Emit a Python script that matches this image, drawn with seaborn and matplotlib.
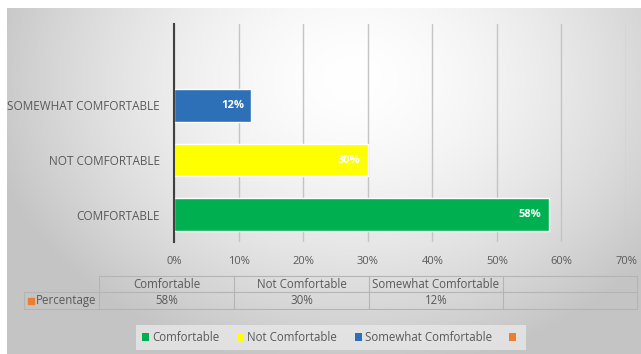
import numpy as np
import pandas as pd
import matplotlib
matplotlib.use("Agg")
import matplotlib.pyplot as plt
from matplotlib.patches import Patch, Rectangle
import seaborn as sns

# ---- data ----
categories = ["SOMEWHAT COMFORTABLE", "NOT COMFORTABLE", "COMFORTABLE"]
values = [12, 30, 58]
table_headers = ["Comfortable", "Not Comfortable", "Somewhat Comfortable"]
table_values = [58, 30, 12]
series_name = "Percentage"
legend_labels = ["Comfortable", "Not Comfortable", "Somewhat Comfortable", ""]
x_ticks = [0, 10, 20, 30, 40, 50, 60, 70]

colors = {"SOMEWHAT COMFORTABLE": "#2e70b8", "NOT COMFORTABLE": "#ffff00",
          "COMFORTABLE": "#00b050"}
legend_colors = ["#00b050", "#ffff00", "#2e70b8", "#ed7d31"]

sns.set_theme(style="white")
plt.rcParams['font.family'] = ['Open Sans', 'DejaVu Sans']

W, H = 641, 354
fig = plt.figure(figsize=(W / 100, H / 100), dpi=100)
fig.patch.set_facecolor("white")

# background gradient (chart area)
bg = fig.add_axes([0, 0, 1, 1], zorder=-10)
yy, xx = np.mgrid[0:H, 0:W]
cx, cy = 0.55 * W, 0.22 * H
r2 = ((xx - cx) / (0.60 * W)) ** 2 + ((yy - cy) / (0.85 * H)) ** 2
val = np.clip(1.0 - 0.24 * r2 ** 0.8, 0.77, 1.0)
img = np.dstack([val, val, val])
img[:8, :, :] = 1.0
img[:, :7, :] = 1.0
bg.imshow(img, extent=(0, W, H, 0), aspect="auto", interpolation="bilinear")
bg.set_xlim(0, W)
bg.set_ylim(H, 0)
bg.axis("off")

# main bar axes
ax = fig.add_axes([174 / W, 1 - 242 / H, (626 - 174) / W, (242 - 23.5) / H])
ax.patch.set_alpha(0)
df = pd.DataFrame({"cat": categories, "val": values})
sns.barplot(data=df, x="val", y="cat", hue="cat", order=categories,
            palette=colors, orient="h", width=0.6, legend=False, ax=ax,
            saturation=1)
ax.set_xlim(0, 70)
ax.set_ylim(2.5, -1.5)
ax.set_xticks(x_ticks)
ax.set_xticklabels([f"{t}%" for t in x_ticks], color="#595959", fontsize=8)
ax.tick_params(axis="x", length=0, pad=10)
ax.tick_params(axis="y", length=0, pad=10, labelcolor="#595959", labelsize=8.5)
ax.set_xlabel("")
ax.set_ylabel("")
ax.grid(axis="x", color="#c4c4c4", linewidth=1)
ax.set_axisbelow(True)
for s in ["top", "right", "bottom"]:
    ax.spines[s].set_visible(False)
ax.spines["left"].set_color("#404040")
ax.spines["left"].set_linewidth(1.5)

for i, v in enumerate(values):
    ax.annotate(f"{v}%", xy=(v, i), xytext=(-5, 0), textcoords="offset points",
                ha="right", va="center", color="white", fontsize=8,
                fontweight="bold")

# data table overlay (pixel coordinates)
ov = fig.add_axes([0, 0, 1, 1], zorder=5)
ov.set_xlim(0, W)
ov.set_ylim(H, 0)
ov.axis("off")
lc = "#b4b4b4"
col_x = [99, 234, 369, 503, 637]
y_top, y_mid, y_bot = 276, 292, 309
ov.plot([99, 637], [y_top, y_top], color=lc, lw=0.8)
ov.plot([24, 637], [y_mid, y_mid], color=lc, lw=0.8)
ov.plot([24, 637], [y_bot, y_bot], color=lc, lw=0.8)
ov.plot([24, 24], [y_mid, y_bot], color=lc, lw=0.8)
for x in col_x:
    ov.plot([x, x], [y_top, y_bot], color=lc, lw=0.8)
for j, (h, v) in enumerate(zip(table_headers, table_values)):
    xc = (col_x[j] + col_x[j + 1]) / 2
    ov.text(xc, (y_top + y_mid) / 2, h, ha="center", va="center",
            color="#595959", fontsize=8.3)
    ov.text(xc, (y_mid + y_bot) / 2, f"{v}%", ha="center", va="center",
            color="#595959", fontsize=8.3)
ov.add_patch(Rectangle((28, 297.5), 6, 6, color="#ed7d31"))
ov.text(36, (y_mid + y_bot) / 2, series_name, ha="left", va="center",
        color="#595959", fontsize=8.3)

# legend
handles = [Patch(facecolor=c, edgecolor="none") for c in legend_colors]
leg = fig.legend(handles, legend_labels, loc="center",
                 bbox_to_anchor=(331 / W, 1 - 337.5 / H), ncol=4,
                 frameon=True, fontsize=8.3, handlelength=0.6, handleheight=0.6,
                 handletextpad=0.3, columnspacing=1.5, borderpad=0.55)
leg.get_frame().set_facecolor("#e8e8e8")
leg.get_frame().set_edgecolor("none")
leg.get_frame().set_alpha(0.8)
leg.get_frame().set_boxstyle("square", pad=0)
for t in leg.get_texts():
    t.set_color("#595959")

fig.savefig("out.png", dpi=100)
